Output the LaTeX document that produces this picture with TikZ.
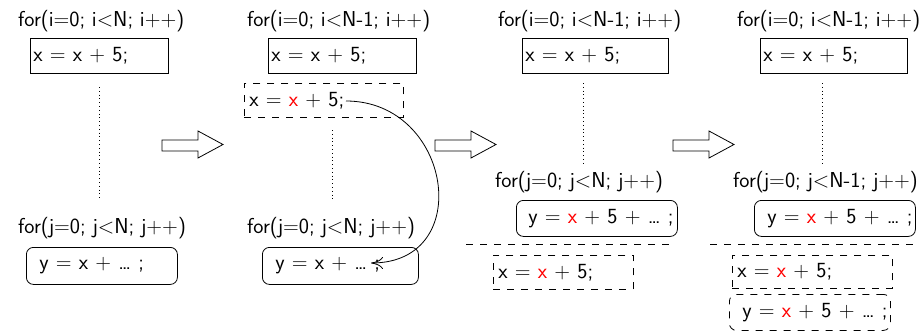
\documentclass[tikz,border=0pt]{standalone}
\usepackage{fontspec}
\usetikzlibrary{arrows.meta}
\begin{document}
\begin{tikzpicture}[x=1pt,y=-1pt,
  every node/.style={font=\sffamily\fontsize{21.6}{26}\selectfont},
  lbl/.style={inner sep=0pt, anchor=base west},
  code/.style={draw, line width=.8pt, inner xsep=0pt, inner ysep=0pt, align=left, anchor=north west},
  sq/.style={code},
  rd/.style={code, rounded corners=7pt},
  dsh/.style={dash pattern=on 7pt off 7pt},
  dotln/.style={line width=.8pt, dash pattern=on .8pt off 3pt},
  bigarrow/.style={draw, line width=.8pt, fill=white},
  curvearrow/.style={line width=.8pt, -{To[length=12pt,width=12pt]}}
]
\clip (0,0) rectangle (919,332);
% ---------- panel 1
\node[lbl] (f1) at (18,27) {for(i=0; i<N; i++)};
\node[sq, text width=138pt, minimum height=35pt] (b1) at (30,38) {\hspace*{3pt}x = x + 5;};
\node[lbl] (f2) at (18,233) {for(j=0; j<N; j++)};
\node[rd, text width=151pt, minimum height=37pt] (b2) at (26,247) {\hspace*{13pt}y = x + \dots\ ;};
\coordinate (d1a) at (99,87);
\coordinate (d1b) at (99,200);
\draw[dotln] (d1a) -- (d1b);
% big arrow 1
\draw[bigarrow] (162,140) -- (198,140) -- (198,131) -- (223,144.5) -- (198,158) -- (198,151) -- (162,151) -- cycle;
% ---------- panel 2
\node[lbl] (f3) at (247,27) {for(i=0; i<N-1; i++)};
\node[sq, text width=148pt, minimum height=35pt] (b3) at (268,38) {\hspace*{3pt}x = x + 5;};
\node[sq, dsh, text width=159pt, minimum height=34pt] (b4) at (244,83) {\hspace*{5pt}x = \textcolor{red}{x} + 5;};
\coordinate (d2a) at (332,130);
\coordinate (d2b) at (332,200);
\draw[dotln] (d2a) -- (d2b);
\node[lbl] (f4) at (247,233) {for(j=0; j<N; j++)};
\node[rd, text width=156pt, minimum height=37pt] (b5) at (262,247) {\hspace*{13pt}y = x + \dots\ ;};
\coordinate (cs) at (346,101);
\coordinate (ce) at (371,263);
\draw[curvearrow] (cs) .. controls (452,101) and (476,263) .. (ce);
% big arrow 2
\draw[bigarrow] (435,140) -- (471,140) -- (471,131) -- (496,144.5) -- (471,158) -- (471,151) -- (435,151) -- cycle;
% ---------- panel 3
\node[lbl] (f5) at (498,27) {for(i=0; i<N-1; i++)};
\node[sq, text width=146pt, minimum height=35pt] (b6) at (522,38) {\hspace*{3pt}x = x + 5;};
\coordinate (d3a) at (583,83);
\coordinate (d3b) at (583,165);
\draw[dotln] (d3a) -- (d3b);
\node[lbl] (f6) at (495,187) {for(j=0; j<N; j++)};
\node[rd, text width=161pt, minimum height=36pt] (b7) at (516,200) {\hspace*{12pt}y = \textcolor{red}{x} + 5 + \dots\ ;};
\coordinate (h3a) at (466,244);
\coordinate (h3b) at (675,244);
\draw[line width=.8pt, dsh] (h3a) -- (h3b);
\node[sq, dsh, text width=140pt, minimum height=34pt] (b8) at (493,255) {\hspace*{5pt}x = \textcolor{red}{x} + 5;};
% big arrow 3
\draw[bigarrow] (673,140) -- (709,140) -- (709,131) -- (734,144.5) -- (709,158) -- (709,151) -- (673,151) -- cycle;
% ---------- panel 4
\node[lbl] (f7) at (737,27) {for(i=0; i<N-1; i++)};
\node[sq, text width=147pt, minimum height=35pt] (b9) at (760,38) {\hspace*{3pt}x = x + 5;};
\coordinate (d4a) at (822,83);
\coordinate (d4b) at (822,165);
\draw[dotln] (d4a) -- (d4b);
\node[lbl] (f8) at (733,187) {for(j=0; j<N-1; j++)};
\node[rd, text width=161pt, minimum height=36pt] (b10) at (754,200) {\hspace*{13pt}y = \textcolor{red}{x} + 5 + \dots\ ;};
\coordinate (h4a) at (710,244);
\coordinate (h4b) at (919,244);
\draw[line width=.8pt, dsh] (h4a) -- (h4b);
\node[sq, dsh, text width=160pt, minimum height=33pt] (b11) at (732,255) {\hspace*{5pt}x = \textcolor{red}{x} + 5;};
\node[rd, dsh, text width=161pt, minimum height=36pt] (b12) at (729,294) {\hspace*{13pt}y = \textcolor{red}{x} + 5 + \dots\ ;};
\end{tikzpicture}
\end{document}
